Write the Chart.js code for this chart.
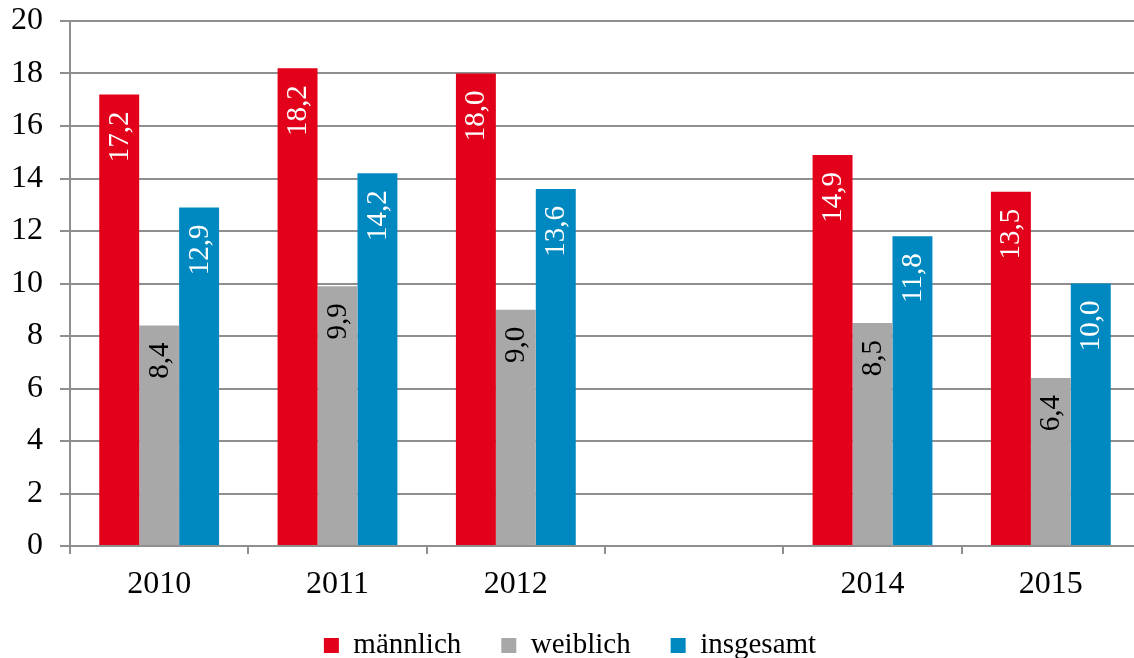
<!DOCTYPE html>
<html>
<head>
<meta charset="utf-8">
<script src="https://cdn.jsdelivr.net/npm/chart.js@4/dist/chart.umd.min.js"></script>
<style>
  html, body { margin: 0; padding: 0; background: #fff; overflow: hidden; }
  #wrap { width: 1142px; height: 658px; }
</style>
</head>
<body>
<div id="wrap"><canvas id="chart" width="1142" height="658"></canvas></div>
<script>
const years = ["2010", "2011", "2012", "", "2014", "2015"];
const maennlich = [17.2, 18.2, 18.0, null, 14.9, 13.5];
const weiblich = [8.4, 9.9, 9.0, null, 8.5, 6.4];
const insgesamt = [12.9, 14.2, 13.6, null, 11.8, 10.0];

const FONT = "'Liberation Serif', 'Times New Roman', serif";
const GRID = "#8f8f8f";

// labels inside the bars, rotated, near the top
const barLabels = {
  id: "barLabels",
  afterDatasetsDraw(chart) {
    const ctx = chart.ctx;
    chart.data.datasets.forEach((ds, i) => {
      const meta = chart.getDatasetMeta(i);
      meta.data.forEach((bar, j) => {
        const v = ds.data[j];
        if (v == null) return;
        ctx.save();
        ctx.translate(bar.x, bar.y + 17);
        ctx.rotate(-Math.PI / 2);
        ctx.font = "29px " + FONT;
        ctx.fillStyle = ds.labelColor;
        ctx.textAlign = "right";
        ctx.textBaseline = "middle";
        ctx.fillText(v.toFixed(1).replace(".", ","), 0, 1);
        ctx.restore();
      });
    });
  }
};

new Chart(document.getElementById("chart"), {
  type: "bar",
  data: {
    labels: years,
    datasets: [
      { label: "männlich", data: maennlich, backgroundColor: "#e2001a", labelColor: "#ffffff" },
      { label: "weiblich", data: weiblich, backgroundColor: "#a8a8a8", labelColor: "#000000" },
      { label: "insgesamt", data: insgesamt, backgroundColor: "#0089c0", labelColor: "#ffffff" }
    ]
  },
  options: {
    responsive: false,
    animation: false,
    categoryPercentage: 0.672,
    barPercentage: 1.0,
    layout: { padding: { top: 21, right: 2, left: 0, bottom: -12 } },
    plugins: {
      tooltip: { enabled: false },
      legend: {
        position: "bottom",
        // empty title with negative padding pulls the row up without shrinking the item gaps
        title: { display: true, text: "", font: { size: 10 }, padding: { top: -14.5, bottom: -14.5 } },
        labels: {
          font: { family: FONT, size: 29 },
          color: "#000",
          boxWidth: 15,
          boxHeight: 15,
          padding: 40
        }
      }
    },
    scales: {
      x: {
        afterFit: (s) => { s.height = 62; },
        grid: { drawOnChartArea: false, drawTicks: true, tickLength: 8, color: GRID, lineWidth: 2 },
        border: { color: GRID, width: 2 },
        ticks: { font: { family: FONT, size: 32 }, color: "#000", padding: 11 }
      },
      y: {
        min: 0,
        max: 20,
        afterFit: (s) => { s.width = 70; s.paddingTop = 0; s.paddingBottom = 0; },
        grid: { color: GRID, lineWidth: 2, tickLength: 10 },
        border: { color: GRID, width: 2 },
        ticks: { stepSize: 2, font: { family: FONT, size: 32 }, color: "#000", padding: 17 }
      }
    }
  },
  plugins: [barLabels]
});
</script>
</body>
</html>
